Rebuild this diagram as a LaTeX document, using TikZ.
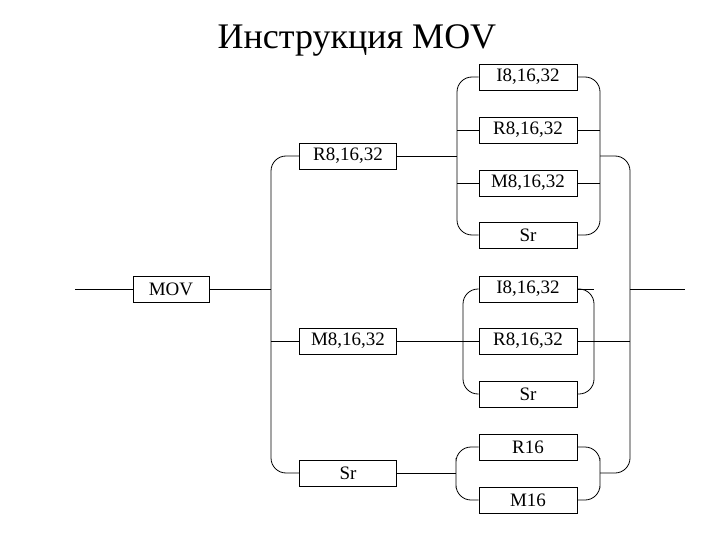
\documentclass[tikz,border=0pt]{standalone}
\usepackage{fontspec}
\setmainfont{Liberation Serif}
\begin{document}
\begin{tikzpicture}[x=1pt,y=-1pt,line width=0.8pt,
  box/.style={draw,minimum width=97pt,minimum height=26pt,inner sep=0pt,font=\fontsize{19}{19}\selectfont},
  rc/.style={rounded corners=15pt}]
\useasboundingbox (0,0) rectangle (720,540);
\node[font=\fontsize{36}{36}\selectfont] (title) at (357,40) {Инструкция MOV};
\node[box,minimum width=76pt] (mov) at (171,289) {MOV};
\node[box] (lr) at (348,156) {R8,16,32};
\node[box] (lm) at (348,341) {M8,16,32};
\node[box] (ls) at (348,473) {Sr};
\node[box,minimum width=98pt] (a1) at (528,77) {I8,16,32};
\node[box,minimum width=98pt] (a2) at (528,130) {R8,16,32};
\node[box,minimum width=98pt] (a3) at (528,183) {M8,16,32};
\node[box,minimum width=98pt] (a4) at (528,235) {Sr};
\node[box,minimum width=98pt] (b1) at (528,289) {I8,16,32};
\node[box,minimum width=98pt] (b2) at (528,341) {R8,16,32};
\node[box,minimum width=98pt] (b3) at (528,394) {Sr};
\node[box,minimum width=98pt] (c1) at (528,447) {R16};
\node[box,minimum width=98pt] (c2) at (528,500) {M16};
\coordinate (start) at (75,289);
\coordinate (end) at (685,289);
\coordinate (L) at (271,289);
\coordinate (R) at (630,289);
\coordinate (aL) at (457,156);
\coordinate (aR) at (600,156);
\coordinate (bL) at (463,341);
\coordinate (bR) at (594,341);
\coordinate (cL) at (456,473);
\coordinate (cR) at (600,473);
\draw (start) -- (mov.west);
\draw (mov.east) -- (L);
\draw[rc] (lr.west) -| (L) |- (ls.west);
\draw (lm.west) -- (lm.west -| L);
\draw (lr.east) -- (aL);
\draw[rc] (a1.west) -| (aL) |- (a4.west);
\draw (a2.west) -- (a2.west -| aL);
\draw (a3.west) -- (a3.west -| aL);
\draw[rc] (a1.east) -| (aR) |- (a4.east);
\draw (a2.east) -- (a2.east -| aR);
\draw (a3.east) -- (a3.east -| aR);
\draw[rc] (aR) -| (R) |- (cR);
\draw (R) -- (end);
\draw (lm.east) -- (b2.west);
\draw[rc] (b1.west) -| (bL) |- (b3.west);
\draw[rc] (b1.east) -| (bR) |- (b3.east);
\draw (b2.east) -- (b2.east -| R);
\draw (b1.east) -- (b1.east -| bR);
\draw (ls.east) -- (cL);
\draw[rc] (c1.west) -| (cL) |- (c2.west);
\draw[rc] (c1.east) -| (cR) |- (c2.east);
\end{tikzpicture}
\end{document}
